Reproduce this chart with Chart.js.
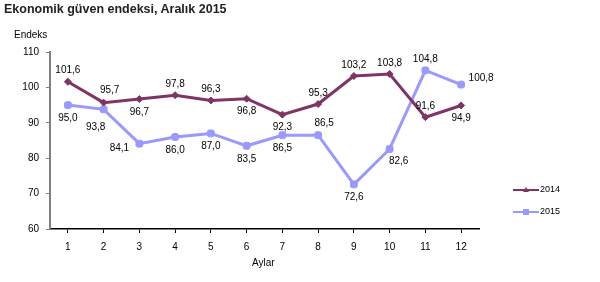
<!DOCTYPE html>
<html>
<head>
<meta charset="utf-8">
<script src="https://cdn.jsdelivr.net/npm/chart.js@4"></script>
<style>
  body { margin: 0; background: #fff; font-family: "Liberation Sans", Arial, sans-serif; }
  #wrap { position: relative; width: 600px; height: 282px; }
  #title { position: absolute; left: 4px; top: 2px; font-size: 12.5px; font-weight: bold; color: #222; }
  #yname { position: absolute; left: 14px; top: 29px; font-size: 10px; color: #000; }
  #xname { position: absolute; left: 252px; top: 257px; font-size: 10px; color: #000; }
  canvas { position: absolute; left: 0; top: 0; }
</style>
</head>
<body>
<div id="wrap">
  <canvas id="chart" width="600" height="282"></canvas>
  <div id="title">Ekonomik güven endeksi, Aralık 2015</div>
  <div id="yname">Endeks</div>
  <div id="xname">Aylar</div>
</div>
<script>
// --- Data ---
const months = ['1', '2', '3', '4', '5', '6', '7', '8', '9', '10', '11', '12'];
const values2014 = [101.6, 95.7, 96.7, 97.8, 96.3, 96.8, 92.3, 95.3, 103.2, 103.8, 91.6, 94.9];
const values2015 = [95.0, 93.8, 84.1, 86.0, 87.0, 83.5, 86.5, 86.5, 72.6, 82.6, 104.8, 100.8];
const yTicks = [60, 70, 80, 90, 100, 110];

// where each value label sits relative to its point
const place2014 = ['a', 'ar', 'b', 'a', 'a', 'b', 'b', 'a', 'a', 'a', 'a', 'b'];
const place2015 = ['b', 'bl', 'l', 'b', 'b', 'b', 'b', 'ar', 'b', 'br', 'a', 'r'];

const color2014 = '#7f3463';
const color2015 = '#9999ff';

function fmt(v) {
    return v.toFixed(1).replace('.', ',');
}

const offsets = {
    a: [0, -11], b: [0, 13], l: [-20, 5], r: [20, -6],
    ar: [6, -12], br: [9, 12], bl: [-8, 18]
};

// value labels next to the points
const labelPlugin = {
    id: 'valueLabels',
    afterDatasetsDraw(chart) {
        const ctx = chart.ctx;
        ctx.save();
        ctx.font = '10px "Liberation Sans", Arial, sans-serif';
        ctx.fillStyle = '#000';
        ctx.textAlign = 'center';
        ctx.textBaseline = 'middle';
        chart.data.datasets.forEach((ds, i) => {
            const meta = chart.getDatasetMeta(i);
            meta.data.forEach((pt, j) => {
                const [dx, dy] = offsets[ds.places[j]];
                ctx.fillText(fmt(ds.data[j]), pt.x + dx, pt.y + dy);
            });
        });
        ctx.restore();
    }
};

// small legend at the right
const legendPlugin = {
    id: 'sideLegend',
    afterDraw(chart) {
        const ctx = chart.ctx;
        ctx.save();
        ctx.font = '9px "Liberation Sans", Arial, sans-serif';
        ctx.textBaseline = 'middle';
        chart.data.datasets.forEach((ds, i) => {
            const y = 190 + i * 22;
            ctx.strokeStyle = ds.borderColor;
            ctx.lineWidth = 2;
            ctx.beginPath();
            ctx.moveTo(513, y);
            ctx.lineTo(539, y);
            ctx.stroke();
            ctx.fillStyle = ds.borderColor;
            if (ds.pointStyle === 'rectRounded') {
                ctx.fillRect(523, y - 3, 6, 6);
            } else {
                ctx.beginPath();
                ctx.moveTo(526, y - 3);
                ctx.lineTo(529, y + 2);
                ctx.lineTo(523, y + 2);
                ctx.closePath();
                ctx.fill();
            }
            ctx.fillStyle = '#000';
            ctx.fillText(ds.label, 540, y);
        });
        ctx.restore();
    }
};

const ctx = document.getElementById('chart').getContext('2d');
new Chart(ctx, {
    type: 'line',
    data: {
        labels: months,
        datasets: [{
            label: '2014',
            data: values2014,
            places: place2014,
            borderColor: color2014,
            backgroundColor: color2014,
            borderWidth: 3,
            pointStyle: 'rectRot',
            pointRadius: 3.5,
            pointBorderWidth: 1,
            tension: 0
        }, {
            label: '2015',
            data: values2015,
            places: place2015,
            borderColor: color2015,
            backgroundColor: color2015,
            borderWidth: 3,
            pointStyle: 'rectRounded',
            pointRadius: 4,
            pointBorderWidth: 1,
            tension: 0
        }]
    },
    options: {
        responsive: false,
        animation: false,
        layout: { padding: { left: 0, right: 121, top: 52, bottom: 0 } },
        plugins: { legend: { display: false }, tooltip: { enabled: false } },
        scales: {
            x: {
                offset: true,
                grid: { drawOnChartArea: false, drawTicks: true, tickLength: 4, color: '#000', offset: false },
                border: { color: '#000', width: 1.5 },
                ticks: { color: '#000', font: { size: 10, family: '"Liberation Sans", Arial' }, padding: 8, maxRotation: 0 },
                afterFit(scale) { scale.height = 53; }
            },
            y: {
                min: 60,
                max: 110,
                afterBuildTicks(scale) { scale.ticks = yTicks.map(v => ({ value: v })); },
                grid: { drawOnChartArea: false, drawTicks: true, tickLength: 4, color: '#808080' },
                border: { color: '#808080', width: 2 },
                ticks: { color: '#000', font: { size: 10, family: '"Liberation Sans", Arial' }, padding: 7 },
                afterFit(scale) { scale.width = 50; }
            }
        }
    },
    plugins: [labelPlugin, legendPlugin]
});
</script>
</body>
</html>
